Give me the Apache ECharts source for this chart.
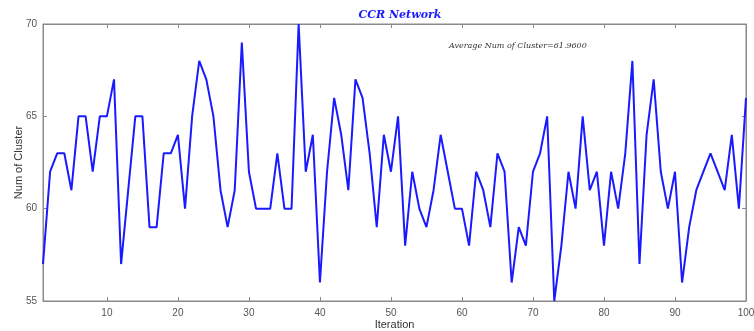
<!DOCTYPE html>
<html><head><meta charset="utf-8">
<script src="https://cdn.jsdelivr.net/npm/echarts@6/dist/echarts.min.js"></script>
<style>html,body{margin:0;padding:0;background:#fff}#c{width:754px;height:331px}</style>
</head><body><div id="c"></div>
<script>
const iterations = Array.from({length: 100}, (_, i) => i + 1);
const numCluster = [
  57,62,63,63,61,65,65,62,65,65,
  67,57,61,65,65,59,59,63,63,64,
  60,65,68,67,65,61,59,61,69,62,
  60,60,60,63,60,60,70,62,64,56,
  62,66,64,61,67,66,63,59,64,62,
  65,58,62,60,59,61,64,62,60,60,
  58,62,61,59,63,62,56,59,58,62,
  63,65,55,58,62,60,65,61,62,58,
  62,60,63,68,57,64,67,62,60,62,
  56,59,61,62,63,62,61,64,60,66
];
const xTicks = [10,20,30,40,50,60,70,80,90,100];
const yTicks = [55,60,65,70];
const titleText = 'CCR Network';
const noteText = 'Average Num of Cluster=61.9600';

const chart = echarts.init(document.getElementById('c'));
const axisLineStyle = {color: '#8a8a8a', width: 1};
chart.setOption({
  animation: false,
  title: {text: titleText, left: 395, textAlign: 'center', top: 5,
    textStyle: {color: '#1a1aff', fontFamily: 'DejaVu Serif', fontStyle: 'italic', fontWeight: 'bold', fontSize: 11}},
  grid: {left: 43, right: 8, top: 24, bottom: 30, show: true, borderColor: '#8a8a8a', borderWidth: 1,
    outerBoundsMode: 'none', containLabel: false},
  xAxis: [{
    type: 'value', min: 1, max: 100, name: 'Iteration', nameLocation: 'middle', nameGap: 18, nameMoveOverlap: false,
    nameTextStyle: {color: '#333', fontFamily: 'Liberation Sans', fontSize: 11},
    axisLine: {show: true, lineStyle: axisLineStyle},
    axisTick: {show: true, inside: true, length: 4, customValues: xTicks, lineStyle: axisLineStyle},
    axisLabel: {customValues: xTicks, color: '#555', fontFamily: 'Liberation Sans', fontSize: 10, margin: 7},
    splitLine: {show: false}
  }, {
    type: 'value', min: 1, max: 100, position: 'top',
    axisLine: {show: true, lineStyle: axisLineStyle},
    axisTick: {show: true, inside: true, length: 4, customValues: xTicks, lineStyle: axisLineStyle},
    axisLabel: {show: false}, splitLine: {show: false}
  }],
  yAxis: [{
    type: 'value', min: 55, max: 70, interval: 5, name: 'Num of Cluster', nameLocation: 'middle', nameGap: 19, nameMoveOverlap: false,
    nameTextStyle: {color: '#333', fontFamily: 'Liberation Sans', fontSize: 11},
    axisLine: {show: true, lineStyle: axisLineStyle},
    axisTick: {show: true, inside: true, length: 4, lineStyle: axisLineStyle},
    axisLabel: {color: '#555', fontFamily: 'Liberation Sans', fontSize: 10, margin: 6},
    splitLine: {show: false}
  }, {
    type: 'value', min: 55, max: 70, interval: 5, position: 'right',
    axisLine: {show: true, lineStyle: axisLineStyle},
    axisTick: {show: true, inside: true, length: 4, lineStyle: axisLineStyle},
    axisLabel: {show: false}, splitLine: {show: false}
  }],
  graphic: [{
    type: 'text', left: 449, top: 42,
    style: {text: noteText, fill: '#333', font: 'italic 8px "DejaVu Serif"'}
  }],
  series: [{
    type: 'line', data: iterations.map((x, i) => [x, numCluster[i]]),
    showSymbol: false, symbol: 'none',
    lineStyle: {color: '#1a1aff', width: 2}
  }]
});
</script></body></html>
